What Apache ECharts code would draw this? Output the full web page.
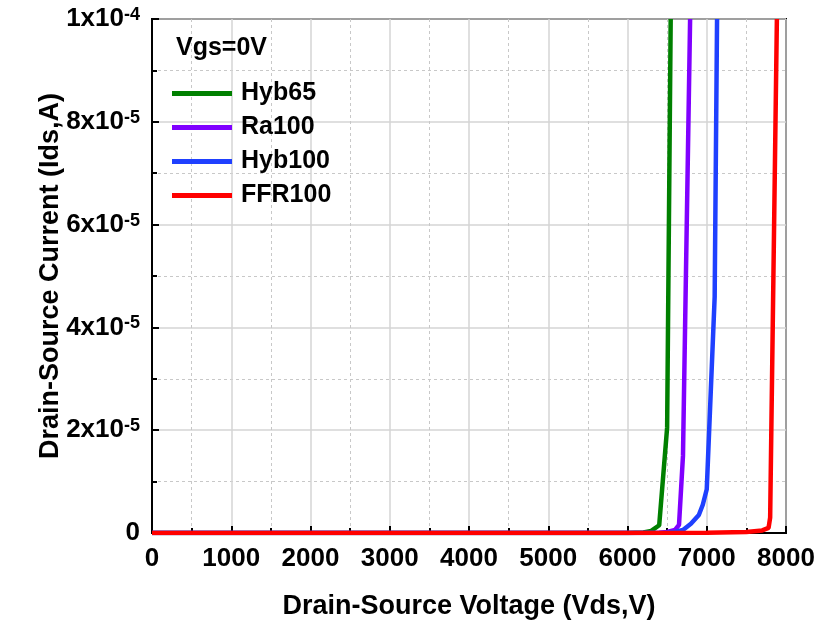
<!DOCTYPE html>
<html>
<head>
<meta charset="utf-8">
<script src="https://cdn.jsdelivr.net/npm/echarts@6/dist/echarts.min.js"></script>
<style>
  html, body { margin: 0; padding: 0; background: #fff; }
  #chart { width: 830px; height: 622px; }
</style>
</head>
<body>
<div id="chart"></div>
<script>
// Vds (V) and Ids (A) for each device
var hyb65V = [0, 1000, 2000, 3000, 4000, 5000, 6000, 6200, 6300, 6400, 6500, 6545];
var hyb65I = [0, 0, 0, 0, 0, 0, 2e-8, 1e-7, 4e-7, 1.5e-6, 2.05e-5, 1e-4];

var ra100V = [0, 1000, 2000, 3000, 4000, 5000, 6000, 6400, 6500, 6600, 6650, 6700, 6790];
var ra100I = [0, 0, 0, 0, 0, 0, 0, 5e-8, 2e-7, 6e-7, 1.6e-6, 1.5e-5, 1e-4];

var hyb100V = [0, 1000, 2000, 3000, 4000, 5000, 6000, 6500, 6600, 6700, 6800, 6900, 6950, 7000, 7100, 7130];
var hyb100I = [0, 0, 0, 0, 0, 0, 0, 5e-8, 2e-7, 6e-7, 1.8e-6, 3.5e-6, 5.5e-6, 8.5e-6, 4.6e-5, 1e-4];

var ffr100V = [0, 1000, 2000, 3000, 4000, 5000, 6000, 7000, 7500, 7700, 7780, 7800, 7885];
var ffr100I = [0, 0, 0, 0, 0, 0, 0, 5e-8, 2e-7, 5e-7, 1e-6, 3e-6, 1e-4];

var seriesNames = ["Hyb65", "Ra100", "Hyb100", "FFR100"];
var colors = ["#008000", "#8000ff", "#1f40ff", "#ff0000"];

var xTicks = [0, 1000, 2000, 3000, 4000, 5000, 6000, 7000, 8000];
var yTickLabels = ["0", "2x10{sup|-5}", "4x10{sup|-5}", "6x10{sup|-5}", "8x10{sup|-5}", "1x10{sup|-4}"];

function pairs(xs, ys) {
  return xs.map(function (x, i) { return [x, ys[i]]; });
}

var allData = [
  pairs(hyb65V, hyb65I),
  pairs(ra100V, ra100I),
  pairs(hyb100V, hyb100I),
  pairs(ffr100V, ffr100I)
];

var font = "Liberation Sans, Arial, sans-serif";
var myChart = echarts.init(document.getElementById("chart"));

myChart.setOption({
  animation: false,
  color: colors,
  title: {
    text: "Vgs=0V",
    left: 171,
    top: 31,
    textStyle: { fontFamily: font, fontSize: 25, fontWeight: "bold", color: "#000" }
  },
  legend: {
    orient: "vertical",
    left: 167,
    top: 76,
    icon: "rect",
    itemWidth: 60,
    itemHeight: 5,
    itemGap: 9,
    data: seriesNames,
    textStyle: {
      fontFamily: font, fontSize: 25, fontWeight: "bold", color: "#000",
      lineHeight: 25, padding: [0, 0, 0, 4]
    }
  },
  grid: {
    left: 152,
    right: 44,
    top: 19,
    bottom: 89,
    outerBoundsMode: "none",
    show: true,
    borderColor: "#000",
    borderWidth: 2
  },
  xAxis: {
    type: "value",
    min: 0,
    max: 8000,
    interval: 1000,
    name: "Drain-Source Voltage (Vds,V)",
    nameLocation: "middle",
    nameGap: 60,
    nameMoveOverlap: false,
    nameTextStyle: { fontFamily: font, fontSize: 27, fontWeight: "bold", color: "#000" },
    axisLine: { lineStyle: { color: "#000", width: 2 } },
    axisTick: { inside: true, length: 7, lineStyle: { color: "#000", width: 2 } },
    minorTick: { show: true, splitNumber: 2, length: 5, lineStyle: { color: "#000", width: 2 } },
    axisLabel: {
      margin: 13,
      fontFamily: font, fontSize: 26, fontWeight: "bold", color: "#000",
      formatter: function (v) { return xTicks.indexOf(v) >= 0 ? String(v) : ""; }
    },
    splitLine: { show: true, lineStyle: { color: "#d4d4d4", width: 1.5 } },
    minorSplitLine: { show: true, lineStyle: { color: "#c8c8c8", width: 1, type: [3, 3] } }
  },
  yAxis: {
    type: "value",
    min: 0,
    max: 1e-4,
    interval: 2e-5,
    name: "Drain-Source Current (Ids,A)",
    nameLocation: "middle",
    nameGap: 88,
    nameMoveOverlap: false,
    nameTextStyle: { fontFamily: font, fontSize: 27, fontWeight: "bold", color: "#000" },
    axisLine: { lineStyle: { color: "#000", width: 2 } },
    axisTick: { inside: true, length: 7, lineStyle: { color: "#000", width: 2 } },
    minorTick: { show: true, splitNumber: 2, length: 5, lineStyle: { color: "#000", width: 2 } },
    axisLabel: {
      margin: 12,
      fontFamily: font, fontSize: 26, fontWeight: "bold", color: "#000",
      formatter: function (v) {
        return yTickLabels[Math.round(v / 2e-5)];
      },
      rich: {
        sup: { fontFamily: font, fontSize: 18, fontWeight: "bold", color: "#000", verticalAlign: "top", lineHeight: 18 }
      }
    },
    splitLine: { show: true, lineStyle: { color: "#d4d4d4", width: 1.5 } },
    minorSplitLine: { show: true, lineStyle: { color: "#c8c8c8", width: 1, type: [3, 3] } }
  },
  series: seriesNames.map(function (name, i) {
    return {
      name: name,
      type: "line",
      data: allData[i],
      showSymbol: false,
      symbol: "none",
      lineStyle: { width: 4.5, color: colors[i] },
      itemStyle: { color: colors[i] }
    };
  })
});
</script>
</body>
</html>
